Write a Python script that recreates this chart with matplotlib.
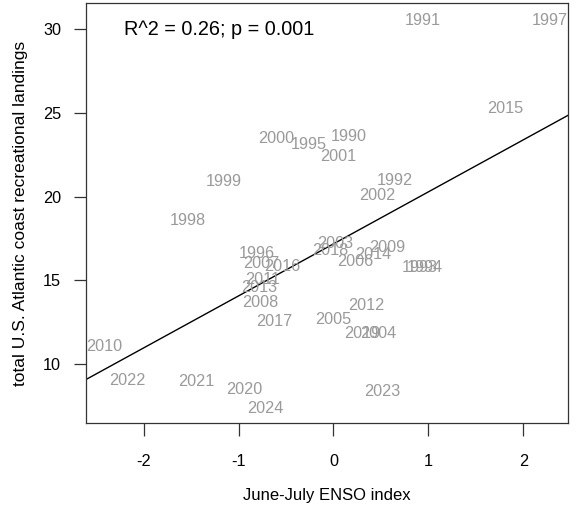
import matplotlib
matplotlib.use("Agg")
import matplotlib.pyplot as plt
import numpy as np

plt.rcParams['font.family'] = ['Liberation Sans', 'DejaVu Sans']

years = list(range(1990, 2025))
enso = [0.156, 0.942, 0.647, 0.907, 0.966, -0.261, -0.812, 2.28, -1.534, -1.157,
        -0.603, 0.050, 0.464, 0.014, 0.470, 0.0, 0.228, -0.759, -0.774, 0.562,
        -2.42, -0.751, 0.348, -0.781, 0.418, 1.807, -0.535, -0.627, -0.039, 0.306,
        -0.936, -1.445, -2.173, 0.517, -0.717]
landings = [23.66, 30.61, 21.04, 15.89, 15.89, 23.18, 16.68, 30.61, 18.66, 21.01,
            23.54, 22.47, 20.17, 17.27, 11.93, 12.76, 16.22, 16.09, 13.80, 17.07,
            11.13, 15.15, 13.57, 14.66, 16.62, 25.36, 15.95, 12.62, 16.88, 11.93,
            8.56, 9.09, 9.11, 8.45, 7.43]
stats_text = "R^2 = 0.26; p = 0.001"

x = np.array(enso)
y = np.array(landings)

fig = plt.figure(figsize=(5.77, 5.08), dpi=100)
ax = fig.add_axes([86 / 577, 85 / 508, (567.7 - 86) / 577, 420 / 508])

for yr, xi, yi in zip(years, x, y):
    ax.text(xi, yi, str(yr), color="#9a9a9a", fontsize=11.7,
            ha="center", va="center_baseline", clip_on=True)

# R-style 4% padding
rx = x.max() - x.min()
ry = y.max() - y.min()
ax.set_xlim(x.min() - 0.04 * rx, x.max() + 0.04 * rx)
ax.set_ylim(y.min() - 0.04 * ry, y.max() + 0.04 * ry)

slope, intercept = np.polyfit(x, y, 1)
ax.axline((0, intercept), slope=slope, color="black", lw=1.0)

ax.text(0.078, 0.938, stats_text, transform=ax.transAxes, fontsize=14.3,
        ha="left", va="center", color="black")

ax.set_xticks([-2, -1, 0, 1, 2])
ax.set_xticklabels(["-2", "-1", "0", "1", "2"])
ax.set_yticks([10, 15, 20, 25, 30])
ax.tick_params(axis="both", direction="out", length=9, width=0.9,
               labelsize=11.7, color="#333333")
ax.tick_params(axis="x", pad=13)
ax.tick_params(axis="y", pad=9)
for s in ax.spines.values():
    s.set_linewidth(0.9)
    s.set_color("#333333")

ax.set_xlabel("June-July ENSO index", fontsize=12, labelpad=14)
ax.set_ylabel("total U.S. Atlantic coast recreational landings", fontsize=12.5,
              labelpad=11)

fig.savefig("out.png", dpi=100)
